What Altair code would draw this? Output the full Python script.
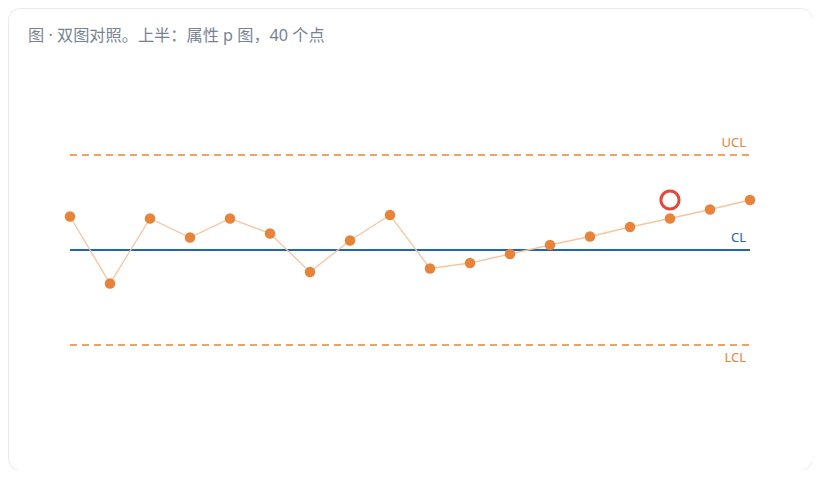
import altair as alt
import pandas as pd

# data
idx = list(range(1, 19))
p_values = [0.267, 0.133, 0.263, 0.225, 0.263, 0.233, 0.156, 0.219, 0.270,
            0.163, 0.174, 0.192, 0.210, 0.227, 0.246, 0.263, 0.281, 0.300]
CL = 0.20
UCL = 0.39
LCL = 0.01
flag_idx = [16]
flag_val = [0.300]
title_text = "图 · 双图对照。上半：属性 p 图，40 个点"

W, H = 804, 462
xs = alt.Scale(domain=[-0.55, 19.55], nice=False, zero=False)
# 500 px per unit, CL at view y = 242
ys = alt.Scale(domain=[0.2 - (H - 242) / 500, 0.2 + 242 / 500], nice=False, zero=False)

pts = pd.DataFrame({"i": idx, "p": p_values})
limits = pd.DataFrame({
    "name": ["UCL", "CL", "LCL"],
    "v": [UCL, CL, LCL],
    "x1": [idx[0]] * 3,
    "x2": [idx[-1]] * 3,
})
flags = pd.DataFrame({"i": flag_idx, "p": flag_val})

X = alt.X("i:Q", scale=xs, axis=None)
Y = alt.Y("p:Q", scale=ys, axis=None)
LX1 = alt.X("x1:Q", scale=xs, axis=None)
LX2 = alt.X("x2:Q", scale=xs, axis=None)
LY = alt.Y("v:Q", scale=ys, axis=None)

dashed = alt.Chart(limits[limits.name != "CL"]).mark_rule(
    color="#F0A263", strokeWidth=2, strokeDash=[7, 5]
).encode(x=LX1, x2="x2:Q", y=LY)
center = alt.Chart(limits[limits.name == "CL"]).mark_rule(
    color="#2166AC", strokeWidth=2
).encode(x=LX1, x2="x2:Q", y=LY)
line = alt.Chart(pts).mark_line(color="#F6C49E", strokeWidth=1.3).encode(x=X, y=Y)
dots = alt.Chart(pts).mark_point(
    filled=True, size=110, color="#E8833A", strokeWidth=0, opacity=1
).encode(x=X, y=Y)
ring = alt.Chart(flags).mark_point(
    shape="circle", filled=False, size=330, color="#E5483A", strokeWidth=3, opacity=1
).encode(x=X, y=Y)

lab_top = alt.Chart(limits[limits.name == "UCL"]).mark_text(
    align="right", baseline="bottom", dx=-4, dy=-5, fontSize=13,
    font="Noto Sans", color="#E8833A"
).encode(x=LX2, y=LY, text="name:N")
lab_cl = alt.Chart(limits[limits.name == "CL"]).mark_text(
    align="right", baseline="bottom", dx=-4, dy=-5, fontSize=13,
    font="Noto Sans", color="#2166AC"
).encode(x=LX2, y=LY, text="name:N")
lab_low = alt.Chart(limits[limits.name == "LCL"]).mark_text(
    align="right", baseline="top", dx=-4, dy=7, fontSize=13,
    font="Noto Sans", color="#E8833A"
).encode(x=LX2, y=LY, text="name:N")

title = alt.Chart(pd.DataFrame({"t": [title_text]})).mark_text(
    align="left", baseline="middle", fontSize=16.2,
    font="Noto Sans, Noto Sans CJK SC", color="#778292"
).encode(x=alt.value(20), y=alt.value(27.5), text="t:N")

chart = alt.layer(dashed, center, line, dots, ring, lab_top, lab_cl, lab_low, title).properties(
    width=W, height=H, padding=0, autosize="none", background="white"
).configure_view(
    stroke="#E6E9EF", strokeWidth=1, cornerRadius=12
)

chart.save("out.html", embed_options={"renderer": "svg", "actions": False})
